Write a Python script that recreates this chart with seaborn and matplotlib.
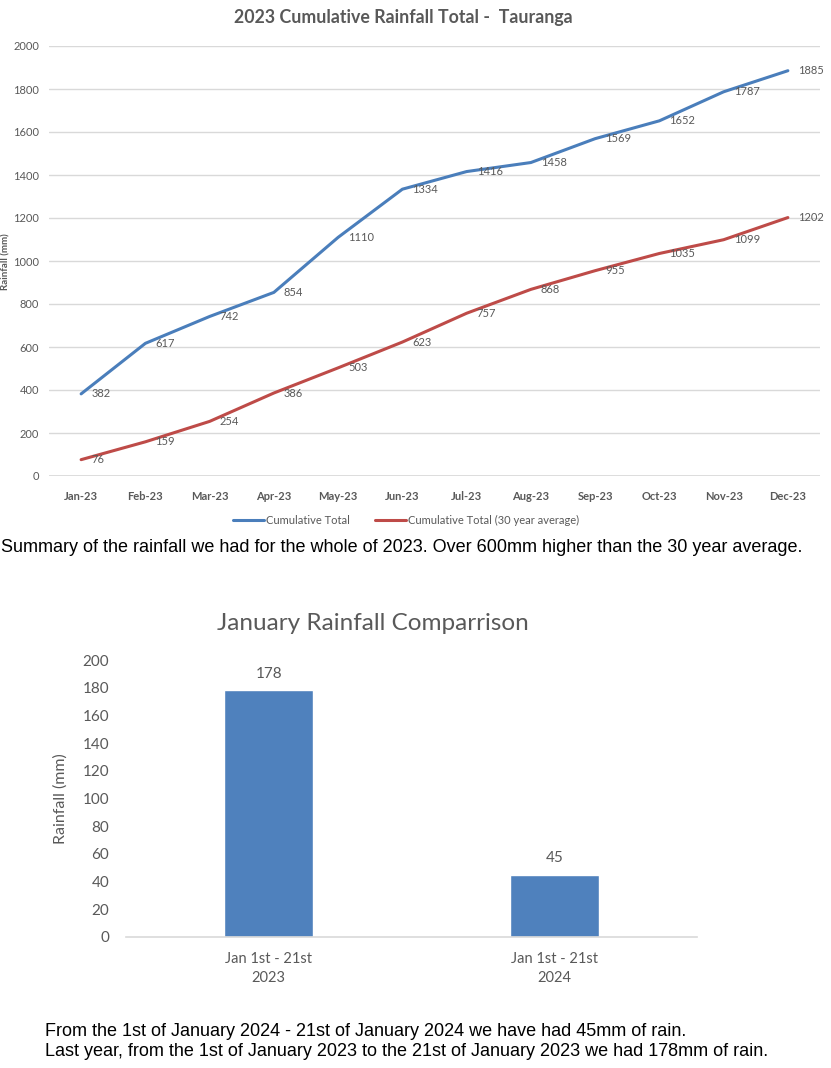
import numpy as np
import matplotlib.pyplot as plt
import seaborn as sns
import pandas as pd

# Données
mois = ["Jan-23", "Feb-23", "Mar-23", "Apr-23", "May-23", "Jun-23",
        "Jul-23", "Aug-23", "Sep-23", "Oct-23", "Nov-23", "Dec-23"]
cumul_total = [382, 617, 742, 854, 1110, 1334, 1416, 1458, 1569, 1652, 1787, 1885]
cumul_moyenne = [76, 159, 254, 386, 503, 623, 757, 868, 955, 1035, 1099, 1202]
noms_series = ["Cumulative Total", "Cumulative Total (30 year average)"]

periodes = ["Jan 1st - 21st\n2023", "Jan 1st - 21st\n2024"]
pluie_janvier = [178, 45]

bleu = "#4a7ebb"
rouge = "#be4b48"
gris = "#595959"
grille = "#d9d9d9"

sns.set_theme(style="white")
plt.rcParams["font.family"] = ["Lato", "DejaVu Sans"]
arial = ["Liberation Sans", "DejaVu Sans"]

W, H = 831, 1068
fig = plt.figure(figsize=(W / 100, H / 100), dpi=100)


def boite(x0, y0, x1, y1):
    # pixels (haut-gauche) -> fraction de figure
    return [x0 / W, 1 - y1 / H, (x1 - x0) / W, (y1 - y0) / H]


# ---- Graphique 1 : cumul annuel ----
ax = fig.add_axes(boite(49, 46, 820, 476))
df = pd.DataFrame({
    "mois": mois * 2,
    "valeur": cumul_total + cumul_moyenne,
    "serie": [noms_series[0]] * len(mois) + [noms_series[1]] * len(mois),
})
sns.lineplot(data=df, x="mois", y="valeur", hue="serie", sort=False,
             palette=[bleu, rouge], linewidth=2.2, ax=ax)
ax.set_xlim(-0.5, len(mois) - 0.5)
ax.set_ylim(0, 2000)
ax.set_yticks(range(0, 2001, 200))
ax.yaxis.grid(True, color=grille, linewidth=1)
ax.set_axisbelow(True)
for s in ax.spines.values():
    s.set_visible(False)
ax.axhline(0, color=grille, linewidth=1.2, zorder=0)
ax.set_xticks(range(len(mois)))
ax.set_xticklabels(mois, fontsize=8, fontweight="bold", color=gris)
ax.set_xticks(np.arange(-0.5, len(mois)), minor=True)
ax.tick_params(axis="x", which="major", length=0, pad=11)
ax.tick_params(axis="x", which="minor", length=4, color=grille, width=1, direction="out")
ax.tick_params(axis="y", length=0, labelsize=8, labelcolor=gris, pad=7)
ax.set_xlabel("")
ax.set_ylabel("")

# étiquettes de données
for serie in (cumul_total, cumul_moyenne):
    for i, v in enumerate(serie):
        ax.annotate(str(v), (i, v), xytext=(10, 0), textcoords="offset pixels",
                    ha="left", va="center", fontsize=8, color=gris)

handles, labels = ax.get_legend_handles_labels()
ax.legend_.remove()
fig.legend(handles, labels, loc="center", bbox_to_anchor=(406 / W, 1 - 520 / H),
           ncol=2, frameon=False, fontsize=8, handlelength=2.8, handletextpad=0.2,
           columnspacing=2.2, labelcolor=gris)

fig.text(403 / W, 1 - 17 / H, "2023 Cumulative Rainfall Total -  Tauranga",
         ha="center", va="center", fontsize=12.8, fontweight="bold", color=gris)
fig.text(6 / W, 1 - 262 / H, "Rainfall (mm)", rotation=90, ha="center", va="center",
         fontsize=7, fontweight="bold", color=gris)

fig.text(1 / W, 1 - 548 / H,
         "Summary of the rainfall we had for the whole of 2023. Over 600mm higher than the 30 year average.",
         ha="left", va="center", fontsize=13, color="black", family=arial)

# ---- Graphique 2 : comparaison janvier ----
ax2 = fig.add_axes(boite(126, 660, 697, 937))
sns.barplot(x=periodes, y=pluie_janvier, color="#4f81bd", width=0.31,
            saturation=1, ax=ax2)
ax2.set_ylim(0, 200)
ax2.set_yticks(range(0, 201, 20))
for cote in ("top", "right", "left"):
    ax2.spines[cote].set_visible(False)
ax2.spines["bottom"].set_color(grille)
ax2.spines["bottom"].set_linewidth(1.2)
ax2.tick_params(axis="y", length=0, labelsize=11, labelcolor=gris, pad=12)
ax2.tick_params(axis="x", length=0, labelsize=10.5, labelcolor=gris, pad=11)
for lab in ax2.get_xticklabels():
    lab.set_linespacing(1.45)
ax2.bar_label(ax2.containers[0], padding=7, fontsize=11, color=gris)
ax2.set_ylabel("Rainfall (mm)", fontsize=11.5, color=gris)
ax2.yaxis.set_label_coords((68 - 126) / 571, 0.5)

fig.text(373 / W, 1 - 623 / H, "January Rainfall Comparrison",
         ha="center", va="center", fontsize=17.5, color=gris)

fig.text(45 / W, 1 - 1032 / H,
         "From the 1st of January 2024 - 21st of January 2024 we have had 45mm of rain.",
         ha="left", va="center", fontsize=13, color="black", family=arial)
fig.text(45 / W, 1 - 1051 / H,
         "Last year, from the 1st of January 2023 to the 21st of January 2023 we had 178mm of rain.",
         ha="left", va="center", fontsize=13, color="black", family=arial)

fig.savefig("out.png", dpi=100)
